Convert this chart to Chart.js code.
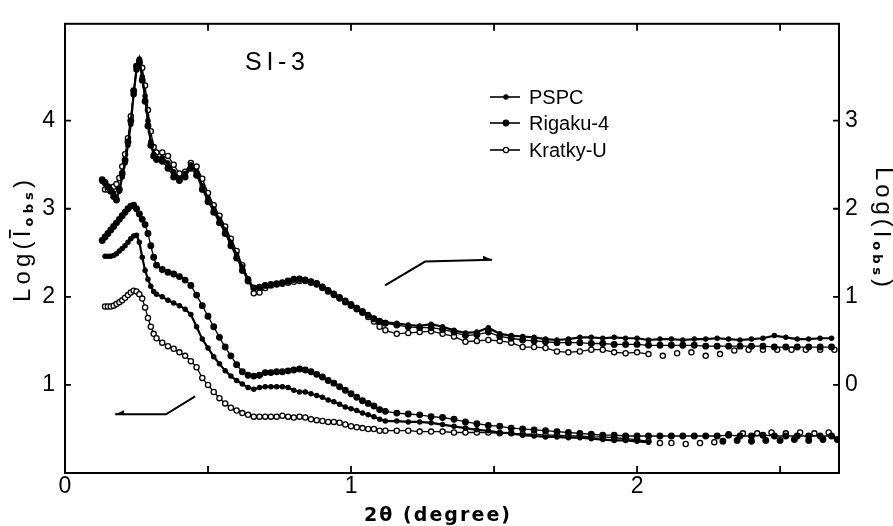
<!DOCTYPE html>
<html>
<head>
<meta charset="utf-8">
<script src="https://cdn.jsdelivr.net/npm/chart.js@4.4.0/dist/chart.umd.min.js"></script>
<style>
    html, body { margin: 0; padding: 0; background: #fff; }
    #wrap { width: 893px; height: 526px; }
</style>
</head>
<body>
<div id="wrap"><canvas id="myChart" width="893" height="526"></canvas></div>
<script>
// 2theta grids (degree)
const headX = [0.13, 0.14, 0.15, 0.16, 0.17, 0.18, 0.19, 0.20, 0.21, 0.22, 0.23, 0.24, 0.25, 0.26, 0.27, 0.28, 0.29, 0.30, 0.31, 0.32];
const midX = [0.34, 0.36, 0.38, 0.40, 0.42, 0.44, 0.46, 0.48, 0.50, 0.52, 0.54, 0.56, 0.58, 0.60, 0.62, 0.64, 0.66, 0.68, 0.70, 0.72,
    0.74, 0.76, 0.78, 0.80, 0.82, 0.84, 0.86, 0.88, 0.90, 0.92, 0.94, 0.96, 0.98, 1.00, 1.02, 1.04, 1.06, 1.08, 1.10, 1.12];
const tailX = [1.16, 1.20, 1.24, 1.28, 1.32, 1.36, 1.40, 1.44, 1.48, 1.52, 1.56, 1.60, 1.64, 1.68, 1.72, 1.76, 1.80, 1.84, 1.88, 1.92,
    1.96, 2.00, 2.04, 2.08, 2.12, 2.16, 2.20, 2.24, 2.28, 2.32, 2.36, 2.40, 2.44, 2.48, 2.52, 2.56, 2.60, 2.64, 2.68];

// upper curves: Log(I obs), right axis
const pspcUpper = [2.31, 2.28, 2.24, 2.22, 2.18, 2.12, 2.20, 2.36, 2.52, 2.72, 2.96, 3.30, 3.58, 3.70, 3.50, 3.28, 3.00, 2.76, 2.62, 2.58,
    2.58, 2.52, 2.42, 2.34, 2.40, 2.50, 2.42, 2.26, 2.12, 2.00, 1.88, 1.76, 1.62, 1.48, 1.34, 1.20, 1.10, 1.10, 1.13, 1.14,
    1.15, 1.16, 1.17, 1.19, 1.21, 1.20, 1.18, 1.16, 1.12, 1.08, 1.04, 1.00, 0.96, 0.92, 0.88, 0.84, 0.80, 0.76, 0.73, 0.71,
    0.70, 0.68, 0.67, 0.69, 0.66, 0.62, 0.59, 0.60, 0.65, 0.58, 0.56, 0.55, 0.54, 0.52, 0.51, 0.52, 0.54, 0.54, 0.53, 0.54,
    0.53, 0.53, 0.51, 0.52, 0.52, 0.51, 0.52, 0.52, 0.53, 0.52, 0.51, 0.52, 0.53, 0.56, 0.54, 0.52, 0.52, 0.53, 0.53];
const rigakuUpper = [2.33, 2.30, 2.25, 2.20, 2.14, 2.10, 2.22, 2.40, 2.55, 2.76, 3.00, 3.34, 3.62, 3.66, 3.46, 3.22, 2.94, 2.72, 2.60, 2.56,
    2.54, 2.46, 2.36, 2.32, 2.36, 2.46, 2.38, 2.22, 2.08, 1.96, 1.84, 1.72, 1.58, 1.44, 1.30, 1.18, 1.10, 1.11, 1.13, 1.14,
    1.15, 1.16, 1.18, 1.20, 1.20, 1.19, 1.17, 1.15, 1.11, 1.07, 1.03, 0.99, 0.95, 0.91, 0.87, 0.83, 0.79, 0.75, 0.72, 0.70,
    0.68, 0.66, 0.65, 0.65, 0.63, 0.60, 0.56, 0.57, 0.60, 0.55, 0.53, 0.51, 0.50, 0.49, 0.48, 0.48, 0.48, 0.47, 0.47, 0.46,
    0.46, 0.46, 0.45, 0.45, 0.45, 0.45, 0.45, 0.44, 0.44, 0.44, 0.44, 0.44, 0.44, 0.43, 0.43, 0.43, 0.43, 0.43, 0.43];
const kratkyUpper = [null, 2.22, 2.22, 2.22, 2.25, 2.28, 2.35, 2.48, 2.62, 2.80, 3.05, 3.30, 3.58, 3.68, 3.60, 3.40, 3.12, 2.88, 2.70, 2.64,
    2.64, 2.60, 2.50, 2.40, 2.42, 2.52, 2.48, 2.34, 2.18, 2.04, 1.92, 1.80, 1.66, 1.52, 1.36, 1.20, 1.04, 1.05, 1.10, 1.13,
    1.14, 1.15, 1.16, 1.17, 1.18, 1.18, 1.16, 1.14, 1.10, 1.06, 1.02, 0.98, 0.94, 0.90, 0.86, 0.82, 0.77, 0.72, 0.66, 0.62,
    0.58, 0.59, 0.60, 0.61, 0.58, 0.55, 0.49, 0.50, 0.51, 0.50, 0.48, 0.43, 0.43, 0.42, 0.38, 0.37, 0.38, 0.40, 0.40, 0.37,
    0.36, 0.37, 0.35];
const kratkyUpperSparseX = [2.09, 2.14, 2.19, 2.24, 2.29, 2.34, 2.39, 2.44, 2.49, 2.54, 2.59, 2.64, 2.69];
const kratkyUpperSparse = [0.33, 0.36, 0.37, 0.33, 0.35, 0.39, 0.40, 0.40, 0.40, 0.40, 0.40, 0.40, 0.40];

// lower curves: Log(I-bar obs), left axis
const rigakuLower = [2.64, 2.68, 2.72, 2.76, 2.80, 2.84, 2.88, 2.92, 2.96, 3.00, 3.03, 3.04, 3.00, 2.94, 2.88, 2.82, 2.72, 2.58, 2.45, 2.36,
    2.31, 2.28, 2.26, 2.23, 2.19, 2.13, 2.02, 1.90, 1.78, 1.66, 1.54, 1.43, 1.33, 1.23, 1.15, 1.11, 1.10, 1.11, 1.14, 1.14,
    1.15, 1.15, 1.16, 1.17, 1.18, 1.17, 1.15, 1.12, 1.09, 1.05, 1.02, 0.98, 0.94, 0.90, 0.86, 0.82, 0.79, 0.76, 0.72, 0.70,
    0.68, 0.67, 0.66, 0.64, 0.63, 0.61, 0.58, 0.56, 0.54, 0.53, 0.51, 0.50, 0.49, 0.48, 0.47, 0.46, 0.45, 0.44, 0.43, 0.43,
    0.42, 0.42, 0.42, 0.42, 0.42, 0.42, 0.42, 0.42, 0.42, 0.43, 0.42, 0.42, 0.43, 0.42, 0.42, 0.42, 0.42, 0.42, 0.42];
const pspcLower = [null, 2.46, 2.46, 2.46, 2.47, 2.49, 2.52, 2.55, 2.58, 2.62, 2.66, 2.69, 2.70, 2.62, 2.45, 2.30, 2.20, 2.12, 2.06, 2.03,
    2.00, 1.96, 1.93, 1.90, 1.86, 1.80, 1.66, 1.52, 1.42, 1.32, 1.24, 1.16, 1.10, 1.05, 1.01, 0.97, 0.95, 0.97, 0.98, 0.98,
    0.98, 0.98, 0.97, 0.94, 0.92, 0.92, 0.90, 0.88, 0.86, 0.83, 0.81, 0.78, 0.75, 0.73, 0.71, 0.68, 0.66, 0.64, 0.61, 0.59,
    0.59, 0.58, 0.58, 0.57, 0.55, 0.53, 0.51, 0.49, 0.48, 0.46, 0.45, 0.43, 0.42, 0.41, 0.41, 0.40, 0.40, 0.39, 0.38, 0.37,
    0.37, 0.36, 0.35];
const pspcLowerSparseX = [2.30, 2.35, 2.40, 2.45, 2.50, 2.55, 2.60, 2.65, 2.70];
const pspcLowerSparse = [0.36, 0.37, 0.36, 0.37, 0.37, 0.38, 0.37, 0.38, 0.38];
const kratkyLower = [null, 1.89, 1.89, 1.89, 1.90, 1.92, 1.94, 1.96, 1.99, 2.02, 2.05, 2.07, 2.06, 2.03, 1.98, 1.88, 1.76, 1.66, 1.58, 1.53,
    1.48, 1.44, 1.41, 1.37, 1.33, 1.27, 1.20, 1.08, 1.00, 0.92, 0.85, 0.79, 0.74, 0.71, 0.68, 0.66, 0.64, 0.64, 0.64, 0.64,
    0.64, 0.65, 0.64, 0.63, 0.64, 0.63, 0.61, 0.60, 0.59, 0.58, 0.58, 0.57, 0.55, 0.53, 0.52, 0.51, 0.50, 0.50, 0.48, 0.48,
    0.48, 0.48, 0.47, 0.47, 0.47, 0.46, 0.46, 0.46, 0.46, 0.45, 0.45, 0.44, 0.44, 0.43, 0.43, 0.42, 0.42, 0.41, 0.41, 0.40,
    0.39, 0.38, 0.36];
const kratkyLowerSparseX = [2.08, 2.12, 2.17, 2.22, 2.27, 2.32, 2.37, 2.42, 2.47, 2.52, 2.57, 2.62, 2.67];
const kratkyLowerSparse = [0.34, 0.34, 0.33, 0.34, 0.35, 0.44, 0.45, 0.45, 0.46, 0.45, 0.46, 0.45, 0.46];

// ticks
const xTickValues = [0, 0.5, 1, 1.5, 2, 2.5];
const xTickLabels = [0, 1, 2];
const leftTicks = [1, 2, 3, 4];
const rightTicks = [0, 1, 2, 3];

const legendNames = ['PSPC', 'Rigaku-4', 'Kratky-U'];

// annotation arrows (data units): lower set -> left axis, upper set -> right axis
const leftArrow = [[0.455, 0.87], [0.353, 0.667], [0.175, 0.667]];
const rightArrow = [[1.119, 1.13], [1.259, 1.40], [1.493, 1.42]];

const fullX = headX.concat(midX, tailX);
const shortX = headX.concat(midX, tailX.slice(0, 23));

function pairUp(xs, ys) {
    return xs.map((x, i) => ({ x: x, y: ys[i] }));
}

function series(label, xs, ys, axis, style) {
    return Object.assign({
        label: label,
        data: pairUp(xs, ys),
        yAxisID: axis,
        borderColor: '#000',
        borderWidth: 1.3,
        pointBorderColor: '#000',
        pointBorderWidth: 1.3,
        pointHoverRadius: 0,
        showLine: true,
        spanGaps: false
    }, style);
}

const small = { pointRadius: 2.1, pointBackgroundColor: '#000', borderWidth: 2.2 };
const dot = { pointRadius: 2.8, pointBackgroundColor: '#000' };
const ring = { pointRadius: 2.6, pointBackgroundColor: '#fff' };

// draws text letter by letter, stretched to a given length
function spacedText(c, parts, cx, cy, angle, length) {
    c.save();
    c.translate(cx, cy);
    c.rotate(angle);
    c.fillStyle = '#000';
    c.textBaseline = 'alphabetic';
    let natural = 0, count = 0;
    parts.forEach(p => {
        c.font = p.font;
        for (const ch of p.text) { natural += c.measureText(ch).width; count++; }
    });
    const gap = count > 1 ? (length - natural) / (count - 1) : 0;
    let x = -length / 2;
    parts.forEach(p => {
        c.font = p.font;
        for (const ch of p.text) {
            const w = c.measureText(ch).width;
            c.fillText(ch, x, p.dy || 0);
            if (p.bar) c.fillRect(x - 1, p.bar, w + 2, 1.8);
            x += w + gap;
        }
    });
    c.restore();
}

function drawArrow(c, chart, pts, scaleY, head) {
    const sx = chart.scales.x;
    const p = pts.map(q => [sx.getPixelForValue(q[0]), scaleY.getPixelForValue(q[1])]);
    c.beginPath();
    c.moveTo(p[0][0], p[0][1]);
    p.slice(1).forEach(q => c.lineTo(q[0], q[1]));
    c.stroke();
    const tip = p[p.length - 1];
    c.beginPath();
    c.moveTo(tip[0], tip[1]);
    c.lineTo(tip[0] + head, tip[1] - 4);
    c.lineTo(tip[0] + head, tip[1] + 1);
    c.closePath();
    c.fill();
}

const paperDecor = {
    id: 'paperDecor',
    afterDraw(chart) {
        const c = chart.ctx;
        const a = chart.chartArea;
        const sx = chart.scales.x, yl = chart.scales.yL, yr = chart.scales.yR;
        c.save();
        c.strokeStyle = '#000';
        c.fillStyle = '#000';
        c.lineWidth = 2;
        c.strokeRect(a.left, a.top, a.right - a.left, a.bottom - a.top);

        // inward tick marks
        c.lineWidth = 1.8;
        c.beginPath();
        xTickValues.forEach(v => {
            if (v <= 0) return;
            const px = sx.getPixelForValue(v);
            c.moveTo(px, a.bottom); c.lineTo(px, a.bottom - 7);
            c.moveTo(px, a.top); c.lineTo(px, a.top + 7);
        });
        leftTicks.forEach(v => {
            const py = yl.getPixelForValue(v);
            c.moveTo(a.left, py); c.lineTo(a.left + 6, py);
        });
        rightTicks.forEach(v => {
            const py = yr.getPixelForValue(v);
            c.moveTo(a.right, py); c.lineTo(a.right - 6, py);
        });
        c.stroke();

        // arrows
        c.lineWidth = 2;
        drawArrow(c, chart, leftArrow, yl, 9);
        drawArrow(c, chart, rightArrow, yr, -9);

        // sample name
        spacedText(c, [{ text: 'SI-3', font: '25px "Liberation Sans"' }], 275, 70, 0, 60);

        // legend
        const rows = [97, 123, 150];
        const styles = [small, dot, ring];
        legendNames.forEach((name, i) => {
            const y = rows[i];
            c.lineWidth = 1.6;
            c.beginPath(); c.moveTo(490, y); c.lineTo(520, y); c.stroke();
            c.beginPath();
            c.arc(506, y, styles[i].pointRadius, 0, Math.PI * 2);
            c.fillStyle = styles[i].pointBackgroundColor;
            c.fill();
            c.lineWidth = 1.2;
            c.stroke();
            c.fillStyle = '#000';
            c.font = '20px "Liberation Sans"';
            c.textBaseline = 'middle';
            c.fillText(name, 529, y + 1);
        });

        // axis titles
        spacedText(c, [{ text: '2\u03b8 (degree)', font: 'bold 19px "DejaVu Sans"' }], 437, 521, 0, 146);
        spacedText(c, [
            { text: 'Log(', font: '24px "Liberation Sans"' },
            { text: 'I', font: '24px "Liberation Sans"', bar: -21 },
            { text: 'obs', font: 'bold 13px "DejaVu Sans"', dy: 3 },
            { text: ')', font: '24px "Liberation Sans"' }
        ], 30, 241, -Math.PI / 2, 122);
        spacedText(c, [
            { text: 'Log(', font: '24px "Liberation Sans"' },
            { text: 'I', font: '24px "Liberation Sans"', dy: 2 },
            { text: 'obs', font: 'bold 13px "DejaVu Sans"', dy: 3 },
            { text: ')', font: '24px "Liberation Sans"' }
        ], 876, 227, Math.PI / 2, 120);
        c.restore();
    }
};

const tickFont = { family: 'Liberation Sans', size: 23 };

new Chart(document.getElementById('myChart'), {
    type: 'scatter',
    data: {
        datasets: [
            series('PSPC', fullX, pspcUpper, 'yR', small),
            series('Rigaku-4', fullX, rigakuUpper, 'yR', dot),
            series('Kratky-U', shortX, kratkyUpper, 'yR', ring),
            series('Kratky-U tail', kratkyUpperSparseX, kratkyUpperSparse, 'yR', Object.assign({}, ring, { showLine: false })),
            series('Rigaku-4 lower', fullX, rigakuLower, 'yL', dot),
            series('PSPC lower', shortX, pspcLower, 'yL', small),
            series('PSPC lower tail', pspcLowerSparseX, pspcLowerSparse, 'yL', Object.assign({}, dot, { showLine: false })),
            series('Kratky-U lower', shortX, kratkyLower, 'yL', ring),
            series('Kratky-U lower tail', kratkyLowerSparseX, kratkyLowerSparse, 'yL', Object.assign({}, ring, { showLine: false }))
        ]
    },
    options: {
        responsive: false,
        animation: false,
        devicePixelRatio: 1,
        layout: { padding: { top: 13, left: 0, right: 0, bottom: 0 } },
        elements: { line: { tension: 0 } },
        scales: {
            x: {
                type: 'linear',
                position: 'bottom',
                min: 0,
                max: 2.706,
                grid: { display: false, drawTicks: false },
                border: { display: false },
                afterBuildTicks: s => { s.ticks = xTickValues.map(v => ({ value: v })); },
                afterFit: s => { s.height = 53; },
                ticks: {
                    font: tickFont,
                    color: '#000',
                    padding: 0,
                    maxRotation: 0,
                    autoSkip: false,
                    callback: v => xTickLabels.includes(v) ? String(v) : ''
                }
            },
            yL: {
                type: 'linear',
                position: 'left',
                min: 0,
                max: 5.1,
                grid: { display: false, drawTicks: false },
                border: { display: false },
                afterBuildTicks: s => { s.ticks = leftTicks.map(v => ({ value: v })); },
                afterFit: s => { s.width = 65; },
                ticks: { font: tickFont, color: '#000', padding: 10 }
            },
            yR: {
                type: 'linear',
                position: 'right',
                min: -1,
                max: 4.1,
                grid: { display: false, drawTicks: false },
                border: { display: false },
                afterBuildTicks: s => { s.ticks = rightTicks.map(v => ({ value: v })); },
                afterFit: s => { s.width = 54; },
                ticks: { font: tickFont, color: '#000', padding: 6 }
            }
        },
        plugins: {
            legend: { display: false },
            tooltip: { enabled: false }
        }
    },
    plugins: [paperDecor]
});
</script>
</body>
</html>
